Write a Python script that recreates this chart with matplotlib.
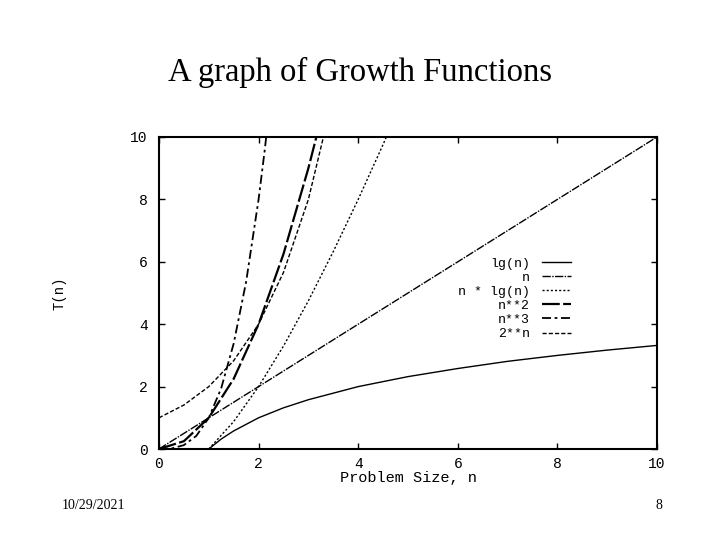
import matplotlib
matplotlib.use("Agg")
import matplotlib.pyplot as plt

# values (gnuplot samples, clipped at T(n) = 10)
lg_n = [1, 1.25, 1.5, 2, 2.5, 3, 4, 5, 6, 7, 8, 9, 10]
lg_t = [0, 0.32, 0.58, 1.0, 1.32, 1.58, 2.0, 2.32, 2.58, 2.81, 3.0, 3.17, 3.32]

lin_n = [0, 10]
lin_t = [0, 10]

nlg_n = [1, 1.5, 2, 2.5, 3, 3.5, 4, 4.5, 4.6]
nlg_t = [0, 0.88, 2.0, 3.30, 4.75, 6.33, 8.0, 9.76, 10.13]

sq_n = [0, 0.5, 1, 1.5, 2, 2.5, 3, 3.25]
sq_t = [0, 0.25, 1, 2.25, 4, 6.25, 9, 10.56]

cube_n = [0, 0.25, 0.5, 0.75, 1, 1.25, 1.5, 1.75, 2, 2.125, 2.25]
cube_t = [0, 0.016, 0.125, 0.42, 1, 1.95, 3.38, 5.36, 8, 9.6, 11.39]

exp_n = [0, 0.5, 1, 1.5, 2, 2.5, 3, 3.5]
exp_t = [1, 1.41, 2, 2.83, 4, 5.66, 8, 11.31]

ticks = [0, 2, 4, 6, 8, 10]
tick_labels = ["0", "2", "4", "6", "8", "10"]

MONO = "Liberation Mono"
SERIF = "Liberation Serif"

fig = plt.figure(figsize=(7.2, 5.4), dpi=100)
ax = fig.add_axes([0.2208, 0.1685, 0.6917, 0.5778])

ax.plot(lg_n, lg_t, color="black", lw=1.0, ls="-", label="lg(n)")
ax.plot(lin_n, lin_t, color="black", lw=1.0, ls=(0, (6, 1, 1, 1)), label="n")
ax.plot(nlg_n, nlg_t, color="black", lw=1.0, ls=(0, (1.5, 1.5)), label="n * lg(n)")
ax.plot(sq_n, sq_t, color="black", lw=1.6, ls=(0, (8, 1.5)), label="n**2")
ax.plot(cube_n, cube_t, color="black", lw=1.3, ls=(0, (5, 2, 1.5, 2)), label="n**3")
ax.plot(exp_n, exp_t, color="black", lw=1.0, ls=(0, (3, 1.5)), label="2**n")

ax.set_xlim(0, 10)
ax.set_ylim(0, 10)
ax.set_xticks(ticks)
ax.set_xticklabels(tick_labels, family=MONO, fontsize=10.5)
ax.set_yticks(ticks)
ax.set_yticklabels(tick_labels, family=MONO, fontsize=10.5)
ax.tick_params(direction="in", length=4, width=1, top=True, right=True)
ax.tick_params(axis="y", pad=8)
ax.tick_params(axis="x", pad=6)
for side in ax.spines.values():
    side.set_linewidth(1.5)

ax.set_xlabel("Problem Size, n", family=MONO, fontsize=11, labelpad=0)
ax.set_ylabel("T(n)", family=MONO, fontsize=10, labelpad=0)
ax.yaxis.set_label_coords(-0.185, 0.5)

leg = ax.legend(loc="upper right", bbox_to_anchor=(0.84, 0.635), frameon=False,
                markerfirst=False, prop={"family": MONO, "size": 9.5},
                handlelength=2.2, handletextpad=0.9, labelspacing=0.14, borderpad=0)

fig.text(0.5, 0.866, "A graph of Growth Functions", ha="center", va="center",
         family=SERIF, fontsize=23.5)
fig.text(0.086, 0.063, "10/29/2021", ha="left", va="center", family=SERIF, fontsize=10)
fig.text(0.911, 0.063, "8", ha="left", va="center", family=SERIF, fontsize=10)

fig.savefig("out.png", dpi=100)
